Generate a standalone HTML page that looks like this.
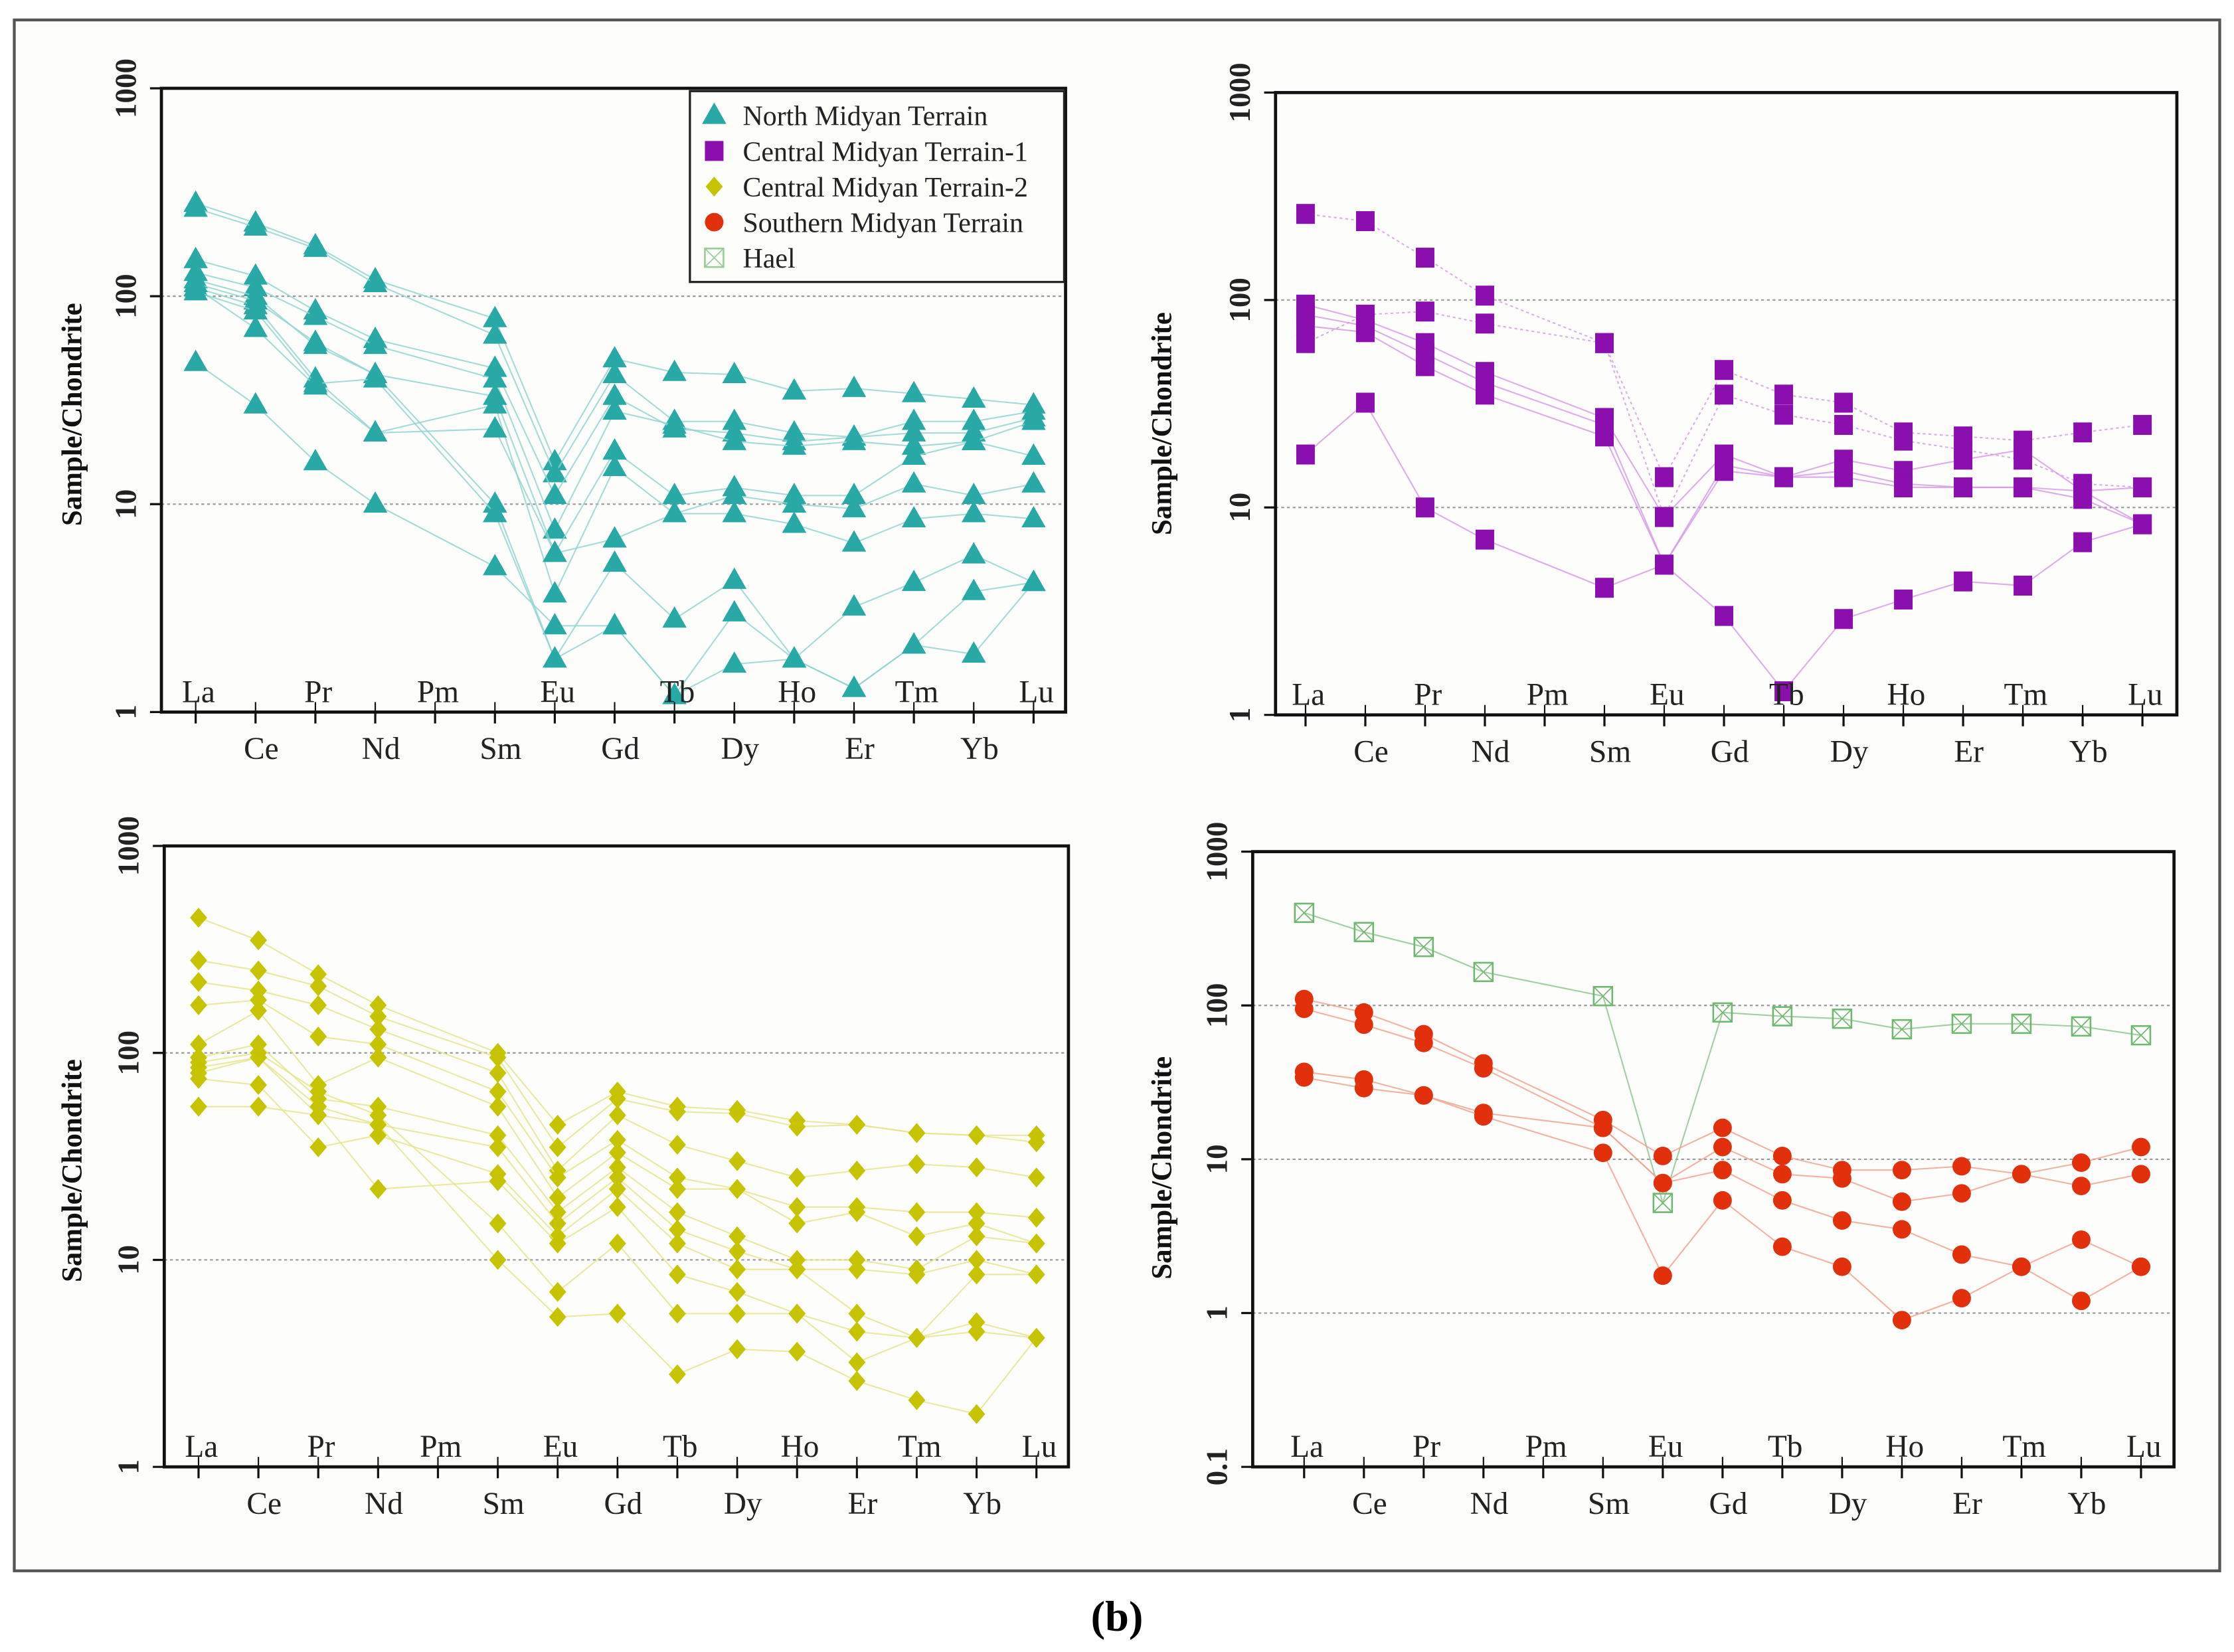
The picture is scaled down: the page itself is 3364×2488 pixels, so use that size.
<!DOCTYPE html>
<html><head><meta charset="utf-8"><style>
html,body{margin:0;padding:0;background:#fff;}
svg{display:block;}
text{font-family:"Liberation Serif",serif;}
</style></head><body>
<svg id="chart" width="3364" height="2488" viewBox="0 0 1564 1160" preserveAspectRatio="none" xmlns="http://www.w3.org/2000/svg">
<rect x="0" y="0" width="1564" height="1160" fill="#fff"/>
<rect x="10" y="14" width="1544" height="1089" fill="#fdfdfc" stroke="#555" stroke-width="2"/>
<text x="782" y="1145" text-anchor="middle" font-size="30" font-weight="bold">(b)</text>
</svg>
<script>
const elements = ["La","Ce","Pr","Nd","Pm","Sm","Eu","Gd","Tb","Dy","Ho","Er","Tm","Yb","Lu"];
const plotIdx = [0,1,2,3,5,6,7,8,9,10,11,12,13,14];
const northSeries = [
 [280,225,175,120,78,16,50,43,42,35,36,34,32,30],
 [265,215,170,115,65,14,42,25,25,22,21,25,25,28],
 [150,125,85,62,45,11,33,23,22,20,21,22,22,26],
 [130,110,80,58,40,7.5,28,24,20,19,20,19,20,25],
 [120,100,58,42,33,5.8,18,11,12,11,11,17,20,17],
 [110,90,40,22,30,3.7,15,9,11,10,9.5,12.5,11,12.5],
 [110,70,37,22,23,5.8,6.8,9,9,8,6.5,8.5,9,8.5],
 [115,95,60,42,10,1.8,5.2,2.8,4.3,1.8,3.2,4.2,5.7,4.2],
 [48,30,16,10,5,2.6,2.6,1.2,1.7,1.8,1.3,2.1,1.9,4.2],
 [105,85,38,40,9,1.8,2.6,1.2,3,1.8,1.3,2.1,3.8,4.2]
];
const central1Series = [
 [260,240,160,105,62,14,46,35,32,23,22,21,23,25],
 [62,85,88,77,62,9,35,28,25,21,19,17,13,12.5],
 [95,80,62,45,27,9,18,14,17,15,17,19,12,8.3],
 [85,75,55,40,25,5.3,16,14,15,13,12.5,12.5,11,8.3],
 [75,70,48,35,22,5.3,15,14,14,12.5,12.5,12.5,12,12.5],
 [18,32,10,7,4.1,5.3,3,1.3,2.9,3.6,4.4,4.2,6.8,8.3]
];
const central1Dotted = [true,true,false,false,false,false];
const central2Series = [
 [450,350,240,170,100,45,65,55,53,47,45,41,40,40],
 [280,250,210,150,95,35,60,52,51,44,45,41,40,37],
 [220,200,170,130,80,27,50,36,30,25,27,29,28,25],
 [170,180,120,110,65,25,38,25,22,18,18,17,17,16],
 [110,160,70,95,55,20,33,22,22,15,17,13,15,12],
 [95,110,60,55,40,17,28,17,13,10,10,9,13,12],
 [85,95,50,45,35,15,25,14,11,9,9,8.5,10,8.5],
 [75,70,35,40,26,13,22,12,9,9,5.5,4.2,8.5,8.5],
 [55,55,50,22,24,12,18,8.5,7,5.5,4.5,4.2,5,4.2],
 [90,100,65,50,15,7,12,5.5,5.5,5.5,3.2,4.2,4.5,4.2],
 [80,95,55,45,10,5.3,5.5,2.8,3.7,3.6,2.6,2.1,1.8,4.2]
];
const southSeries = [
 [110,90,65,42,18,10.5,16,10.5,8.5,8.5,9,8,9.5,12],
 [95,75,57,39,16,7,12,8,7.5,5.3,6,8,6.7,8],
 [37,33,26,20,16,7,8.5,5.4,4,3.5,2.4,2,3,2],
 [34,29,26,19,11,1.75,5.4,2.7,2,0.9,1.25,2,1.2,2]
];
const haelSeries = [
 [400,300,240,165,115,5.2,90,85,82,70,76,76,73,64]
];
const legendLabels = ["North Midyan Terrain","Central Midyan Terrain-1","Central Midyan Terrain-2","Southern Midyan Terrain","Hael"];

const NS="http://www.w3.org/2000/svg";
const svg=document.getElementById('chart');
function mk(tag,attrs,parent){const e=document.createElementNS(NS,tag);for(const k in attrs)e.setAttribute(k,attrs[k]);(parent||svg).appendChild(e);return e;}

function marker(g,type,x,y,color){
  let e;
  if(type==='tri'){e=mk('polygon',{points:`${x},${y-9} ${x-8.5},${y+6} ${x+8.5},${y+6}`,fill:color},g);}
  else if(type==='sq'){e=mk('rect',{x:x-6.5,y:y-7,width:13,height:14,fill:color},g);}
  else if(type==='dia'){e=mk('polygon',{points:`${x},${y-7} ${x+6},${y} ${x},${y+7} ${x-6},${y}`,fill:color},g);}
  else if(type==='circ'){e=mk('circle',{cx:x,cy:y,r:6.5,fill:color},g);}
  else if(type==='hael'){e=mk('g',{},g);
    mk('rect',{x:x-6.5,y:y-6.5,width:13,height:13,fill:'none',stroke:color,'stroke-width':1.2},e);
    mk('path',{d:`M${x-6.5},${y-6.5}L${x+6.5},${y+6.5}M${x+6.5},${y-6.5}L${x-6.5},${y+6.5}`,stroke:color,'stroke-width':0.8},e);}
  return e;
}

function panel(cfg){
  const g=mk('g',{});
  
  
  const {x0,x1,y0,y1,minExp,maxExp,laX,step}=cfg;
  const yS=v=>y1-(Math.log10(v)-minExp)/(maxExp-minExp)*(y1-y0);
  const xS=i=>laX+i*step;
  // gridlines
  cfg.grid.forEach(v=>{const l=mk('line',{x1:x0,x2:x1,y1:yS(v),y2:yS(v),stroke:'#999','stroke-width':1,'stroke-dasharray':'2,2'},g);
    });
  // series
  cfg.series.forEach((set,si)=>{
    set.data.forEach((s,k)=>{
      const sg=mk('g',{},g);
      
      
      const pts=s.map((v,j)=>xS(plotIdx[j])+','+yS(v)).join(' ');
      const attrs={points:pts,fill:'none',stroke:set.line,'stroke-width':1,'stroke-opacity':0.8};
      if(set.dotted&&set.dotted[k])attrs['stroke-dasharray']='2,2';
      mk('polyline',attrs,sg);
      s.forEach((v,j)=>{const m=marker(sg,set.type,xS(plotIdx[j]),yS(v),set.color);
        });
    });
  });
  // box
  const b=mk('rect',{x:x0,y:y0,width:x1-x0,height:y1-y0,fill:'none',stroke:'#111','stroke-width':2.2},g);
  
  // x ticks & labels
  elements.forEach((el,i)=>{
    const x=xS(i);
    mk('line',{x1:x,x2:x,y1:y1,y2:y1+8,stroke:'#111','stroke-width':1.5},g);
    mk('line',{x1:x,x2:x,y1:y1,y2:y1-7,stroke:'#111','stroke-width':1},g);
    const t=mk('text',{x:x+(i%2==0?2:4),y:i%2==0?y1-7:y1+33,'text-anchor':'middle','font-size':22,fill:'#222'},g);
    t.textContent=el;
    
  });
  // y ticks
  for(let e=minExp;e<=maxExp;e++){
    const y=yS(Math.pow(10,e));
    mk('line',{x1:x0-8,x2:x0,y1:y,y2:y,stroke:'#111','stroke-width':1.5},g);
    const lab=e<0?'0.1':String(Math.pow(10,e));
    const tx=x0-18;
    const t=mk('text',{x:tx,y:y,'text-anchor':'middle','font-size':21,'font-weight':'bold',fill:'#222',transform:`rotate(-90 ${tx} ${y})`},g);
    t.textContent=lab;
    
  }
  const tx=cfg.titleX, ty=(y0+y1)/2+(cfg.titleDy||0);
  const tt=mk('text',{x:tx,y:ty,'text-anchor':'middle','font-size':20,'font-weight':'bold',fill:'#111',transform:`rotate(-90 ${tx} ${ty})`},g);
  tt.textContent='Sample/Chondrite';
  
  return g;
}

const TEAL='#29a9a6', PURP='#8a0fae', YEL='#c6c400', RED='#e2300c', GRN='#8cc48c';
panel({name:'north-midyan-panel',x0:113,x1:746,y0:62,y1:500,minExp:0,maxExp:3,laX:137,step:41.9,grid:[10,100],titleX:57,titleDy:10,
  series:[{name:'north-midyan',data:northSeries,type:'tri',color:TEAL,line:'#8fd3d1'}]});
panel({name:'central-midyan-1-panel',x0:893,x1:1524,y0:65,y1:502,minExp:0,maxExp:3,laX:914,step:41.85,grid:[10,100],titleX:820,titleDy:14,
  series:[{name:'central-midyan-1',data:central1Series,type:'sq',color:PURP,line:'#d59ae3',dotted:central1Dotted}]});
panel({name:'central-midyan-2-panel',x0:115,x1:748,y0:594,y1:1030,minExp:0,maxExp:3,laX:139,step:41.9,grid:[10,100],titleX:57,titleDy:10,
  series:[{name:'central-midyan-2',data:central2Series,type:'dia',color:YEL,line:'#e6e48a'}]});
panel({name:'southern-midyan-hael-panel',x0:877,x1:1522,y0:598,y1:1030,minExp:-1,maxExp:3,laX:913,step:41.85,grid:[1,10,100],titleX:820,titleDy:6,
  series:[{name:'hael',data:haelSeries,type:'hael',color:'#6fb86f',line:GRN},
          {name:'southern-midyan',data:southSeries,type:'circ',color:RED,line:'#f0a08c'}]});

// legend
const lg=mk('g',{});


mk('rect',{x:483,y:64,width:262,height:134,fill:'#fdfdfa',stroke:'#222','stroke-width':1.5},lg);
const ltypes=['tri','sq','dia','circ','hael'], lcols=[TEAL,PURP,YEL,RED,'#9acc9a'];
legendLabels.forEach((lab,i)=>{
  const y=81+i*25;
  const eg=mk('g',{},lg);
  
  
  marker(eg,ltypes[i],500,y,lcols[i]);
  const t=mk('text',{x:520,y:y+7,'font-size':19.5,fill:'#222'},eg);
  t.textContent=lab;
});
</script>
</body></html>
